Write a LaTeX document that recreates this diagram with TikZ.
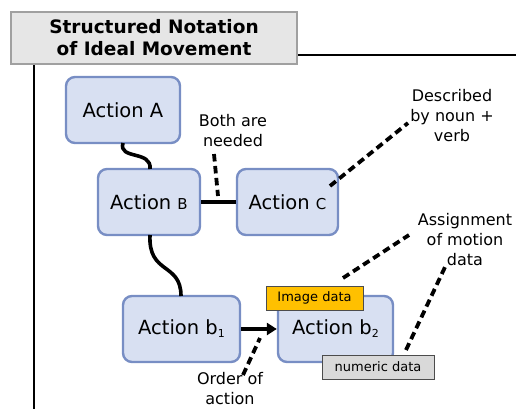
\documentclass[tikz,border=0pt]{standalone}
\usepackage{fontspec}
\setmainfont{DejaVu Sans}
\usetikzlibrary{arrows.meta}
\definecolor{boxfill}{RGB}{216,224,242}
\definecolor{boxline}{RGB}{120,142,196}
\definecolor{titlefill}{RGB}{230,230,230}
\definecolor{titleline}{RGB}{160,160,160}
\definecolor{imgfill}{RGB}{255,192,0}
\definecolor{numfill}{RGB}{217,217,217}
\newcommand{\smc}[1]{{\fontsize{15}{16}\selectfont #1}}
\newcommand{\sbs}[1]{\raisebox{-3pt}{\fontsize{11}{12}\selectfont #1}}
\begin{document}
\begin{tikzpicture}[x=1pt,y=-1pt,
  actbox/.style={draw=boxline, fill=boxfill, line width=2.4pt, rounded corners=9pt,
    minimum width=#1, minimum height=66pt, inner sep=0pt, font=\fontsize{19.5}{22}\selectfont},
  tagbox/.style={draw=black!70, line width=1pt, minimum height=24pt, inner sep=0pt,
    font=\fontsize{13}{15}\selectfont},
  note/.style={align=center, font=\fontsize{16}{20}\selectfont, inner sep=0pt},
  link/.style={line width=3.6pt},
  dashlink/.style={line width=3.8pt, dash pattern=on 7.5pt off 4.5pt}
]
\useasboundingbox (0,0) rectangle (516,409);
% title and frame
\node[draw=titleline, fill=titlefill, line width=2.5pt, minimum width=286pt, minimum height=52pt,
  inner sep=0pt, align=center, font=\bfseries\fontsize{18.5}{22}\selectfont] (title) at (154,38)
  {Structured Notation\\of Ideal Movement};
\coordinate (hend) at (516,55);
\coordinate (vend) at (34,409);
\draw[line width=2.6pt] (title.east |- hend) -- (hend);
\draw[line width=2.6pt] (title.south -| vend) -- (vend);
% action boxes
\node[actbox=114pt] (A) at (123,110) {Action A};
\node[actbox=102pt] (B) at (149,202) {Action \smc{B}};
\node[actbox=101pt] (C) at (287.5,202) {Action \smc{C}};
\node[actbox=117pt] (b1) at (181.5,329) {Action b\sbs{1}};
\node[actbox=115pt] (b2) at (335.5,329) {Action b\sbs{2}};
\node[tagbox, fill=imgfill, minimum width=97pt] (img) at (314.5,298) {Image data};
\node[tagbox, fill=numfill, minimum width=112pt] (num) at (378,367) {numeric data};
% connectors
\coordinate (Abot) at (123,143);
\coordinate (Btop) at (150,169);
\coordinate (Bbot) at (150,235);
\coordinate (b1top) at (181,296);
\draw[link] (Abot) .. controls (118,160) and (152,150) .. (Btop);
\draw[link] (Bbot) .. controls (148,275) and (181,262) .. (b1top);
\draw[link] (B.east) -- (C.west);
\draw[line width=3.6pt, -{Triangle[length=10pt,width=12pt]}] (b1.east) -- (b2.west);
% notes
\node[note] (both) at (233,131) {Both are\\needed};
\node[note] (desc) at (452,116) {Described\\by noun +\\verb};
\node[note] (assign) at (465,240) {Assignment\\of motion\\data};
\node[note] (order) at (230,389) {Order of\\action};
% dashed pointers
\coordinate (p1a) at (214,154);
\coordinate (p1b) at (218,196);
\draw[dashlink] (p1a) -- (p1b);
\coordinate (p2a) at (330,186);
\coordinate (p2b) at (408,123);
\draw[dashlink] (p2a) -- (p2b);
\coordinate (p3a) at (343,278);
\coordinate (p3b) at (409,235);
\draw[dashlink] (p3a) -- (p3b);
\coordinate (p4a) at (406,350);
\coordinate (p4b) at (446,265);
\draw[dashlink] (p4a) -- (p4b);
\coordinate (p5a) at (243,375);
\coordinate (p5b) at (260,338);
\draw[dashlink] (p5a) -- (p5b);
\end{tikzpicture}
\end{document}
